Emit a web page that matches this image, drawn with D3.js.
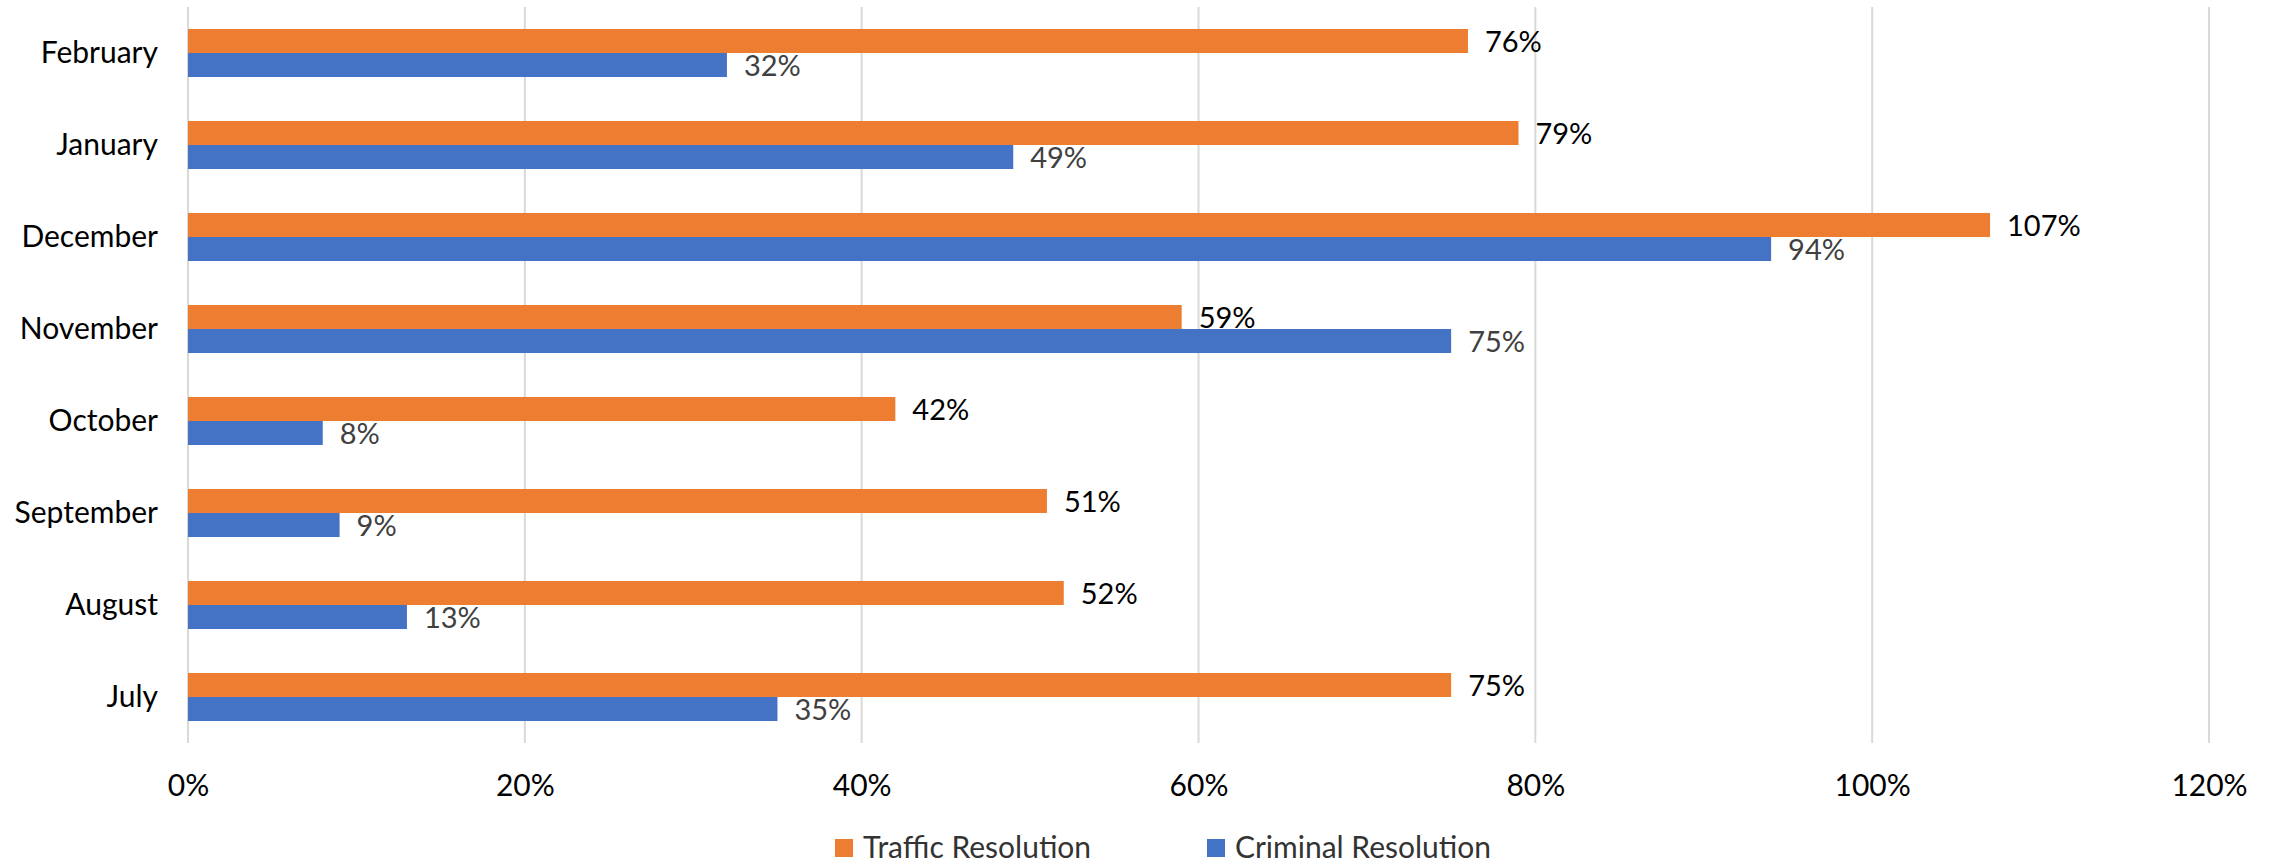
<!DOCTYPE html>
<html lang="en">
<head>
<meta charset="utf-8">
<title>Traffic and Criminal Resolution</title>
<script src="https://cdn.jsdelivr.net/npm/d3@7"></script>
<style>
  body { margin: 0; background: #fff; }
  svg { display: block; font-family: Lato, "Open Sans", sans-serif; }
</style>
</head>
<body>
<script>
// data, top row first
var months = ["February", "January", "December", "November", "October", "September", "August", "July"];
var traffic = [0.76, 0.79, 1.07, 0.59, 0.42, 0.51, 0.52, 0.75];
var criminal = [0.32, 0.49, 0.94, 0.75, 0.08, 0.09, 0.13, 0.35];
var xTicks = [0, 0.2, 0.4, 0.6, 0.8, 1.0, 1.2];
var seriesNames = ["Traffic Resolution", "Criminal Resolution"];

var seriesColors = ["#ED7D31", "#4472C4"];
var labelColors = ["#000000", "#404040"];

var w = 2272, h = 862;
var plotTop = 7, plotBottom = 743;

var svg = d3.select("body").append("svg")
  .attr("width", w)
  .attr("height", h);

var x = d3.scaleLinear().domain([0, 1.2]).range([188, 2209]);
var y = d3.scaleBand().domain(months).range([plotTop, plotBottom])
  .paddingInner(0.478).paddingOuter(0.239);
var sub = d3.scaleBand().domain(seriesNames).range([0, y.bandwidth()]);

// vertical gridlines
svg.append("g").selectAll("line")
  .data(xTicks)
  .enter()
  .append("line")
  .attr("x1", function(d) { return x(d); })
  .attr("x2", function(d) { return x(d); })
  .attr("y1", plotTop)
  .attr("y2", plotBottom)
  .attr("stroke", "#d9d9d9")
  .attr("stroke-width", 2);

// x axis labels
var xAxis = svg.append("g")
  .attr("transform", "translate(0," + plotBottom + ")")
  .call(d3.axisBottom(x).tickValues(xTicks).tickSize(0).tickFormat(d3.format(".0%")));
xAxis.select(".domain").remove();
xAxis.selectAll("text")
  .attr("y", 42)
  .attr("dy", "0.35em")
  .attr("fill", "#000")
  .style("font-size", "30px")
  .style("font-family", "Lato, 'Open Sans', sans-serif");

// category labels
var yAxis = svg.append("g")
  .attr("transform", "translate(188,0)")
  .call(d3.axisLeft(y).tickSize(0).tickPadding(30));
yAxis.select(".domain").remove();
yAxis.selectAll("text")
  .attr("fill", "#000")
  .style("font-size", "30px")
  .style("font-family", "Lato, 'Open Sans', sans-serif");

var rows = months.map(function(m, i) {
  return { month: m, values: [traffic[i], criminal[i]] };
});

var groups = svg.selectAll(".grp")
  .data(rows)
  .enter()
  .append("g")
  .attr("class", "grp")
  .attr("transform", function(d) { return "translate(0," + y(d.month) + ")"; });

groups.selectAll("rect")
  .data(function(d) { return d.values; })
  .enter()
  .append("rect")
  .attr("x", x(0))
  .attr("y", function(d, i) { return sub(seriesNames[i]); })
  .attr("width", function(d) { return x(d) - x(0); })
  .attr("height", sub.bandwidth())
  .attr("fill", function(d, i) { return seriesColors[i]; });

groups.selectAll("text")
  .data(function(d) { return d.values; })
  .enter()
  .append("text")
  .attr("x", function(d) { return x(d) + 17; })
  .attr("y", function(d, i) { return sub(seriesNames[i]) + sub.bandwidth() / 2 + 1; })
  .attr("dy", "0.35em")
  .attr("fill", function(d, i) { return labelColors[i]; })
  .style("font-size", "29px")
  .text(function(d) { return Math.round(d * 100) + "%"; });

// legend
var legendX = [835, 1207];
var legend = svg.selectAll(".legend")
  .data(seriesNames)
  .enter()
  .append("g")
  .attr("class", "legend")
  .attr("transform", function(d, i) { return "translate(" + legendX[i] + ",847)"; });

legend.append("rect")
  .attr("x", 0)
  .attr("y", -8)
  .attr("width", 18)
  .attr("height", 18)
  .attr("fill", function(d, i) { return seriesColors[i]; });

legend.append("text")
  .attr("x", 28)
  .attr("dy", "0.35em")
  .attr("fill", "#333333")
  .style("font-size", "30px")
  .text(function(d) { return d; });
</script>
</body>
</html>
